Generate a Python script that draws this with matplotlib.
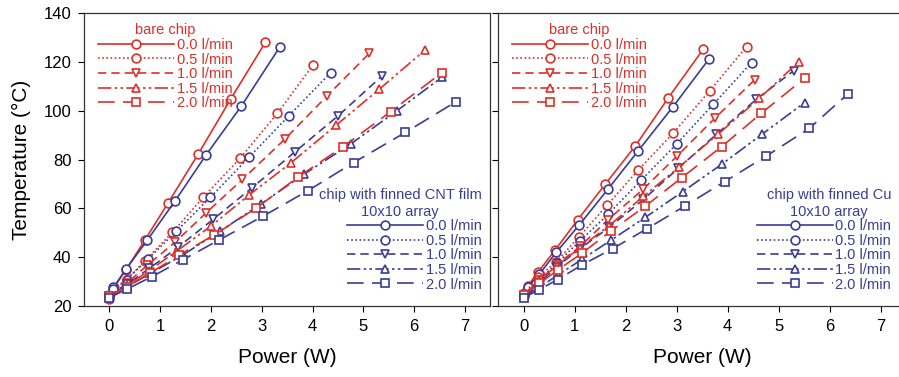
import matplotlib.pyplot as plt
from matplotlib.lines import Line2D

plt.rcParams['font.family'] = ['Liberation Sans', 'DejaVu Sans']

RED = '#dc3029'
BLUE = '#3a3d94'

flows = ['0.0 l/min', '0.5 l/min', '1.0 l/min', '1.5 l/min', '2.0 l/min']
markers = ['o', 'o', 'v', '^', 's']
styles = ['-', (0, (1, 1.5)), (0, (5, 3)), (0, (8, 2, 1.5, 2, 1.5, 2)), (0, (10, 5))]

# left panel: bare chip vs chip with finned CNT film
cnt_bare_x = [
    [0, 0.09, 0.33, 0.70, 1.16, 1.75, 2.39, 3.07],
    [0, 0.08, 0.34, 0.70, 1.24, 1.85, 2.57, 3.31, 4.01],
    [0, 0.35, 0.75, 1.29, 1.91, 2.62, 3.45, 4.29, 5.12],
    [0, 0.35, 0.78, 1.31, 2.00, 2.75, 3.58, 4.47, 5.31, 6.22],
    [0, 0.35, 0.80, 1.38, 2.06, 2.88, 3.71, 4.60, 5.54, 6.55],
]
cnt_bare_y = [
    [23.0, 27.5, 35.0, 47.1, 62.4, 82.3, 104.9, 128.0],
    [23.8, 26.5, 30.7, 38.6, 50.2, 64.6, 80.5, 99.0, 118.8],
    [24.0, 29.5, 36.8, 46.1, 58.3, 71.9, 88.3, 106.2, 123.6],
    [24.0, 28.5, 34.5, 42.3, 52.8, 65.5, 78.8, 94.2, 108.8, 125.0],
    [24.0, 28.0, 33.5, 41.0, 49.1, 60.0, 72.8, 85.3, 99.7, 115.7],
]
cnt_fin_x = [
    [0, 0.08, 0.33, 0.75, 1.29, 1.90, 2.60, 3.36],
    [0, 0.08, 0.34, 0.77, 1.32, 1.99, 2.75, 3.53, 4.36],
    [0, 0.35, 0.79, 1.36, 2.04, 2.81, 3.66, 4.50, 5.37],
    [0, 0.35, 0.82, 1.44, 2.18, 2.98, 3.83, 4.75, 5.66, 6.55],
    [0, 0.35, 0.83, 1.44, 2.16, 3.03, 3.91, 4.81, 5.83, 6.83],
]
cnt_fin_y = [
    [23.8, 27.7, 35.2, 47.1, 63.0, 81.8, 102.0, 126.3],
    [24.5, 27.0, 30.9, 39.5, 50.7, 64.6, 81.0, 97.9, 115.7],
    [24.0, 29.0, 35.5, 44.3, 55.5, 68.5, 83.3, 97.9, 114.3],
    [24.0, 28.0, 33.5, 40.9, 50.7, 61.8, 74.0, 86.4, 100.0, 113.8],
    [23.5, 27.0, 32.0, 38.9, 47.1, 56.9, 67.3, 78.8, 91.2, 103.8],
]

# right panel: bare chip vs chip with finned Cu
cu_bare_x = [
    [0, 0.08, 0.29, 0.62, 1.06, 1.60, 2.19, 2.83, 3.52],
    [0, 0.29, 0.64, 1.08, 1.64, 2.25, 2.93, 3.65, 4.37],
    [0, 0.30, 0.65, 1.11, 1.65, 2.34, 3.01, 3.76, 4.53],
    [0, 0.30, 0.65, 1.11, 1.68, 2.35, 3.05, 3.81, 4.62, 5.40],
    [0, 0.31, 0.67, 1.14, 1.72, 2.39, 3.10, 3.88, 4.66, 5.51],
]
cu_bare_y = [
    [25.2, 28.2, 34.1, 43.0, 55.3, 69.9, 85.6, 105.1, 125.2],
    [24.9, 32.0, 38.2, 48.2, 61.4, 75.8, 90.8, 108.2, 126.3],
    [24.7, 30.5, 37.0, 44.5, 55.3, 67.8, 81.5, 97.2, 112.7],
    [24.5, 30.5, 36.5, 44.0, 53.0, 65.0, 77.0, 90.4, 105.1, 120.2],
    [24.5, 29.3, 34.8, 41.6, 50.9, 61.0, 72.6, 85.3, 99.0, 113.4],
]
cu_fin_x = [
    [0, 0.08, 0.31, 0.64, 1.09, 1.65, 2.25, 2.93, 3.63],
    [0, 0.31, 0.65, 1.11, 1.66, 2.31, 3.00, 3.72, 4.47],
    [0, 0.31, 0.65, 1.11, 1.68, 2.35, 3.03, 3.78, 4.56, 5.30],
    [0, 0.31, 0.67, 1.14, 1.72, 2.39, 3.12, 3.89, 4.68, 5.51],
    [0, 0.31, 0.67, 1.14, 1.75, 2.42, 3.16, 3.94, 4.76, 5.60, 6.35],
]
cu_fin_y = [
    [24.1, 27.7, 33.1, 42.0, 53.2, 67.8, 83.7, 101.7, 121.1],
    [24.5, 30.9, 37.5, 46.8, 57.7, 71.7, 86.4, 102.7, 119.8],
    [24.2, 29.5, 36.1, 43.6, 52.3, 63.7, 76.4, 90.4, 104.7, 116.5],
    [23.8, 27.7, 32.7, 39.1, 47.1, 56.4, 66.9, 78.2, 90.5, 103.4],
    [23.4, 26.8, 30.9, 36.8, 43.6, 51.7, 61.0, 71.0, 81.5, 92.8, 106.8],
]

fig = plt.figure(figsize=(8.99, 3.77), dpi=100)
ax1 = fig.add_axes([0.0934, 0.188, 0.452, 0.777])
ax2 = fig.add_axes([0.554, 0.188, 0.454, 0.777])

MS = 6.3
LW = 1.2


def draw(ax, bx, by, fx, fy, fin_title, blue_loc):
    for i in range(5):
        ax.plot(bx[i], by[i], color=RED, ls=styles[i], marker=markers[i], ms=MS,
                mfc='white', mew=1.2, lw=LW)
        ax.plot(fx[i], fy[i], color=BLUE, ls=styles[i], marker=markers[i], ms=MS,
                mfc='white', mew=1.2, lw=LW)
    red_h = [Line2D([], [], color=RED, ls=styles[i], marker=markers[i], ms=MS,
                    mfc='white', mew=1.2, lw=LW) for i in range(5)]
    blue_h = [Line2D([], [], color=BLUE, ls=styles[i], marker=markers[i], ms=MS,
                     mfc='white', mew=1.2, lw=LW) for i in range(5)]
    leg1 = ax.legend(red_h, flows, title='bare chip', loc='upper left',
                     bbox_to_anchor=(0.01, 1.0), frameon=False, fontsize=10.5,
                     title_fontsize=10.5, handlelength=5.2, handletextpad=0.2,
                     labelspacing=0.04, borderaxespad=0.3, numpoints=1)
    leg1.get_title().set_color(RED)
    for t in leg1.get_texts():
        t.set_color(RED)
    ax.add_artist(leg1)
    leg2 = ax.legend(blue_h, flows, title=fin_title, loc='lower right',
                     bbox_to_anchor=blue_loc, frameon=False, fontsize=10.5,
                     title_fontsize=10.5, handlelength=5.2, handletextpad=0.2,
                     labelspacing=0.04, borderaxespad=0.2, numpoints=1)
    leg2._legend_box.align = 'right'
    leg2.get_title().set_color(BLUE)
    leg2.get_title().set_ha('center')
    for t in leg2.get_texts():
        t.set_color(BLUE)

    ax.set_xlim(-0.5, 7.5)
    ax.set_ylim(20, 140)
    ax.set_xticks(range(8))
    ax.set_yticks(range(20, 141, 20))
    ax.tick_params(direction='out', length=4, width=0.8, labelsize=12, pad=5)
    ax.set_xlabel('Power (W)', fontsize=15, labelpad=10)
    for s in ax.spines.values():
        s.set_linewidth(0.9)
        s.set_color('#333333')


draw(ax1, cnt_bare_x, cnt_bare_y, cnt_fin_x, cnt_fin_y,
     'chip with finned CNT film\n10x10 array', (1.0, 0.02))
draw(ax2, cu_bare_x, cu_bare_y, cu_fin_x, cu_fin_y,
     'chip with finned Cu\n10x10 array', (0.985, 0.02))

ax1.set_ylabel('Temperature (\u00b0C)', fontsize=15, labelpad=9)
ax2.tick_params(labelleft=False)

fig.savefig('out.png', dpi=100)
